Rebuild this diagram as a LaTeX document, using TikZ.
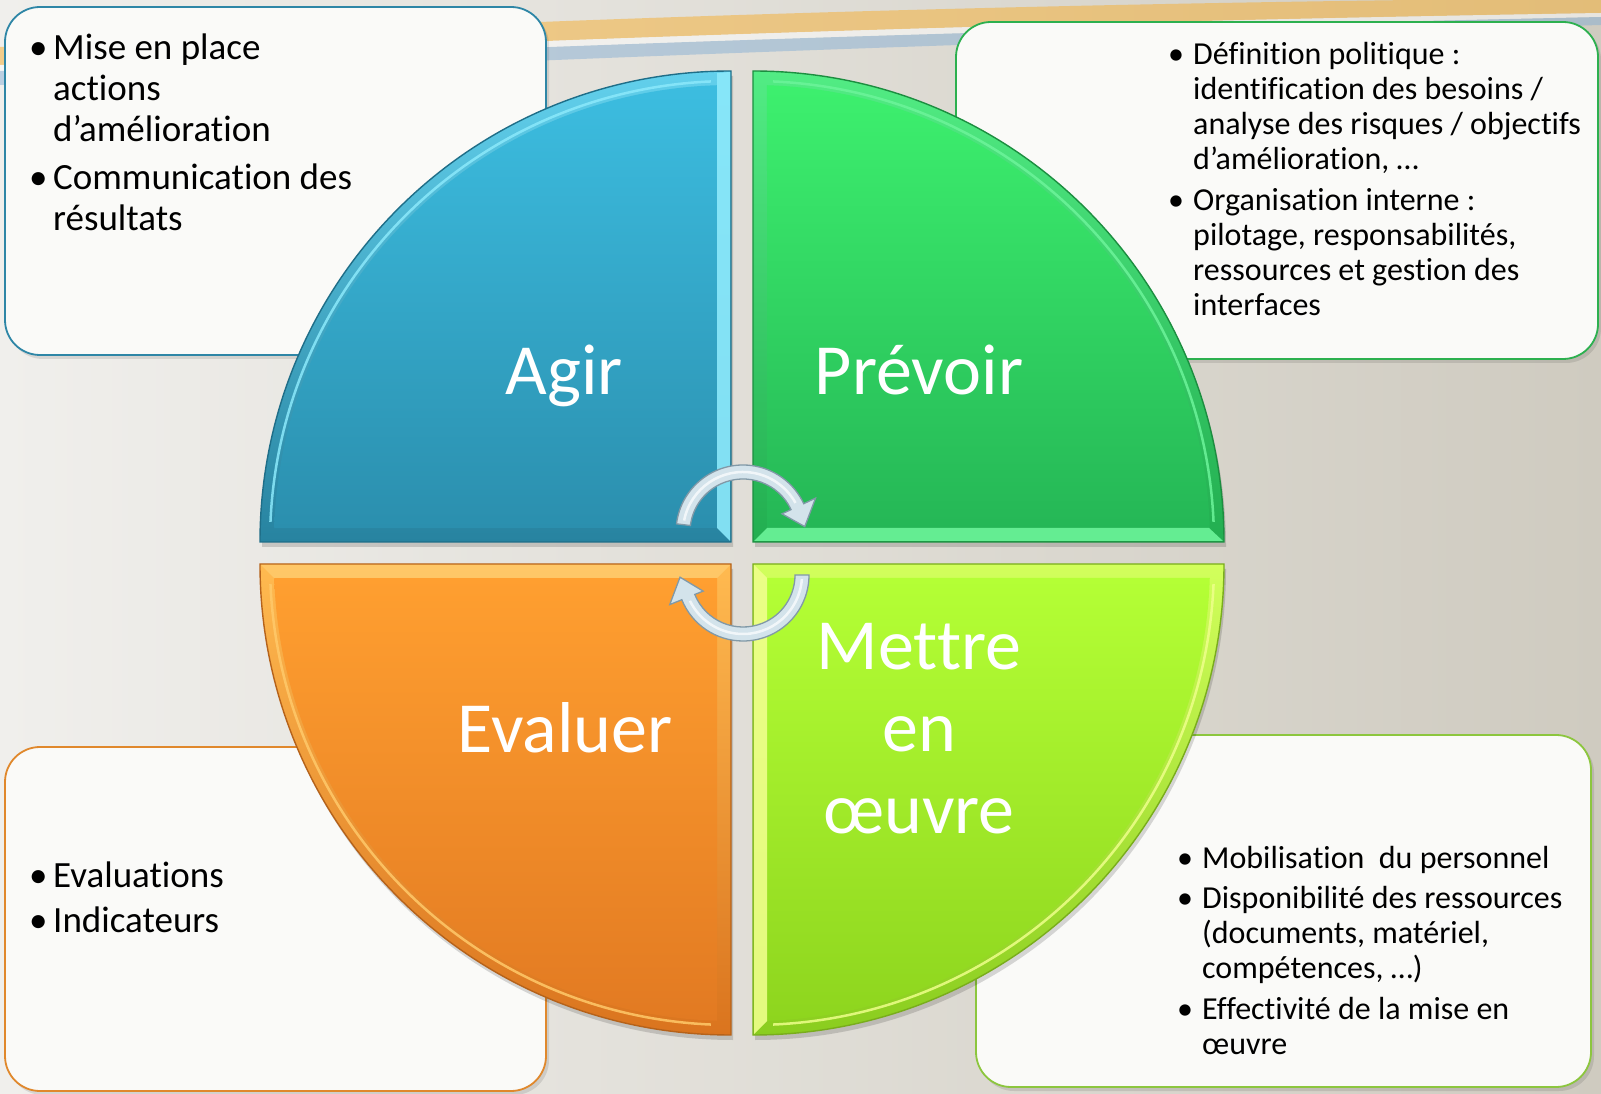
\documentclass[tikz,border=0pt]{standalone}
\usepackage{fontspec}
\setmainfont{Carlito}[Ligatures=NoCommon]
\definecolor{bgL}{HTML}{F0EFEC}
\definecolor{bgR}{HTML}{CFCBC0}
\definecolor{boxfill}{HTML}{FAFAF8}
\definecolor{bAgir}{HTML}{2E86A6}
\definecolor{bPrev}{HTML}{2CB04F}
\definecolor{bMet}{HTML}{8CC63E}
\definecolor{bEval}{HTML}{E0882C}
\definecolor{agT}{HTML}{3CBDE0}
\definecolor{agB}{HTML}{2B8FAE}
\definecolor{agBT}{HTML}{62D0EC}
\definecolor{agBB}{HTML}{2783A0}
\definecolor{agHi}{HTML}{8BE9FB}
\definecolor{agLine}{HTML}{1F6E88}
\definecolor{prT}{HTML}{3DF06E}
\definecolor{prB}{HTML}{25B756}
\definecolor{prBT}{HTML}{52EC84}
\definecolor{prBB}{HTML}{22AE50}
\definecolor{prHi}{HTML}{6CF49A}
\definecolor{prLine}{HTML}{1C8E40}
\definecolor{evT}{HTML}{FF9F30}
\definecolor{evB}{HTML}{E27A22}
\definecolor{evBT}{HTML}{FFBA50}
\definecolor{evBB}{HTML}{DA741E}
\definecolor{evHi}{HTML}{FFC96A}
\definecolor{evLine}{HTML}{B5621A}
\definecolor{meT}{HTML}{B4FF35}
\definecolor{meB}{HTML}{8ED51E}
\definecolor{meBT}{HTML}{D2FF5C}
\definecolor{meBB}{HTML}{8ACD1E}
\definecolor{meHi}{HTML}{EEFF8A}
\definecolor{meLine}{HTML}{79AD1C}
\definecolor{arFill}{HTML}{D3E3EB}
\definecolor{arLine}{HTML}{8199A7}
\definecolor{swOr}{HTML}{F4B23E}
\definecolor{swBl}{HTML}{7DAAD4}
\tikzset{
  box/.style={rounded corners=35, fill=boxfill, line width=1.8},
  boxshadow/.style={rounded corners=35, fill=black, opacity=.10},
  qlabel/.style={text=white, font=\fontsize{72}{82}\selectfont, inner sep=0, anchor=base},
  txtbig/.style={font=\fontsize{37}{41}\selectfont, inner sep=0, anchor=base west, text=black},
  txtsmall/.style={font=\fontsize{32}{35}\selectfont, inner sep=0, anchor=base west, text=black},
  cycarrow/.style={fill=arFill, draw=arLine, line width=1.3},
}
\newcommand\bitem[3]{\hbox{\makebox[#1pt][l]{\hspace*{#2pt}•}#3}}
\newcommand\bcont[2]{\hbox{\hspace*{#1pt}#2}}
% #1 x, #2 y, #3 start angle, #4 band top, #5 band bottom, #6 face top, #7 face bottom, #8 outline, #9 highlight
\newcommand\drawquad[9]{%
\begin{scope}[shift={(#1,#2)}]
 \fill[black, opacity=.15] (2,-5) -- ++(#3:471) arc[start angle=#3, delta angle=90, radius=471] -- cycle;
 \shade[top color=#4, bottom color=#5] (0,0) -- (#3:471) arc[start angle=#3, delta angle=90, radius=471] -- cycle;
 \draw[#8, line width=1.4] (0,0) -- (#3:471) arc[start angle=#3, delta angle=90, radius=471] -- cycle;
 \draw[#9, line width=2.5, opacity=.85] (#3+2.5:461) arc[start angle=#3+2.5, end angle=#3+87.5, radius=461];
 \shade[top color=#6, bottom color=#7] (#3+45:19.8) -- (#3+1.755:457) arc[start angle=#3+1.755, end angle=#3+88.245, radius=457] -- cycle;
\end{scope}}
\begin{document}
\begin{tikzpicture}[x=1pt,y=1pt]
\useasboundingbox (0,0) rectangle (1601,1093);
% background
\shade[left color=bgL, right color=bgR] (0,0) rectangle (1601,1093);
% swoosh
\begin{scope}[yshift=-5]
\fill[swOr, opacity=.55] (0,1051) .. controls (500,1078) and (1000,1095) .. (1601,1100)
  -- (1601,1085) .. controls (1000,1075) and (500,1058) .. (0,1033) -- cycle;
\fill[white, opacity=.5] (0,1033) .. controls (500,1058) and (1000,1075) .. (1601,1085)
  -- (1601,1081) .. controls (1000,1068) and (500,1052) .. (0,1027) -- cycle;
\fill[swBl, opacity=.45] (0,1027) .. controls (500,1052) and (1000,1068) .. (1601,1081)
  -- (1601,1073) .. controls (1000,1056) and (500,1038) .. (0,1013) -- cycle;
\end{scope}
% boxes
\fill[boxshadow] (8,734) rectangle (549,1083);
\draw[box, draw=bAgir] (5,738) rectangle (546,1086);
\fill[boxshadow] (959,730) rectangle (1601,1068);
\draw[box, draw=bPrev] (956,734) rectangle (1598,1071);
\fill[boxshadow] (979,2) rectangle (1594,355);
\draw[box, draw=bMet] (976,6) rectangle (1591,358);
\fill[boxshadow] (8,-2) rectangle (549,343);
\draw[box, draw=bEval] (5,2) rectangle (546,346);
% quadrants
\drawquad{731}{551}{90}{agBT}{agBB}{agT}{agB}{agLine}{agHi}
\fill[agHi, opacity=.9] (730,552) -- (717,565) -- (717,1020) -- (730,1021) -- cycle;
\drawquad{753}{551}{0}{prBT}{prBB}{prT}{prB}{prLine}{prHi}
\fill[prHi, opacity=.9] (754,552) -- (767,565) -- (1209,565) -- (1223,552) -- cycle;
\drawquad{731}{529}{180}{evBT}{evBB}{evT}{evB}{evLine}{evHi}
\fill[evHi, opacity=.9] (730,528) -- (717,515) -- (274,515) -- (261,528) -- cycle;
\drawquad{753}{529}{270}{meBT}{meBB}{meT}{meB}{meLine}{meHi}
\fill[meHi, opacity=.9] (754,528) -- (767,515) -- (767,72) -- (754,59) -- cycle;
% cycle arrows
\begin{scope}[shift={(743,561)}]
 \filldraw[cycarrow] (173:67) arc[start angle=173, end angle=25, radius=67] -- (25:80) -- (5:62) -- (25:43) -- (25:53) arc[start angle=25, end angle=173, radius=53] -- cycle;
 \draw[white, line width=2.5, opacity=.7] (169:60) arc[start angle=169, end angle=29, radius=60];
\end{scope}
\begin{scope}[shift={(743,518)}]
 \filldraw[cycarrow] (0:66) arc[start angle=0, end angle=-158, radius=66] -- (-158:79) -- (-178:63) -- (-158:43) -- (-158:52) arc[start angle=-158, end angle=0, radius=52] -- cycle;
 \draw[white, line width=2.5, opacity=.7] (-4:59) arc[start angle=-4, end angle=-154, radius=59];
\end{scope}
% quadrant labels
\node[qlabel] (agir) at (564,698) {Agir};
\node[qlabel] (prevoir) at (919,698) {Prévoir};
\node[qlabel] (evaluer) at (565,340) {Evaluer};
\node[qlabel] (mettre) at (919,423) {\begin{tabular}[t]{@{}c@{}}Mettre\\en\\œuvre\end{tabular}};
% box texts
\node[txtbig] (tagir) at (33,1033) {\vtop{\baselineskip=41pt\lineskiplimit=-500pt
  \bitem{20}{-4}{Mise en place}\bcont{20}{actions}\bcont{20}{d’amélioration}\vskip7pt
  \bitem{20}{-4}{Communication des}\bcont{20}{résultats}}};
\node[txtsmall] (tprev) at (1171,1028) {\vtop{\baselineskip=35pt\lineskiplimit=-500pt
  \bitem{22}{-3}{Définition politique :}\bcont{22}{identification des besoins /}\bcont{22}{analyse des risques / objectifs}\bcont{22}{d’amélioration, …}\vskip6pt
  \bitem{22}{-3}{Organisation interne :}\bcont{22}{pilotage, responsabilités,}\bcont{22}{ressources et gestion des}\bcont{22}{interfaces}}};
\node[txtsmall] (tmet) at (1180,225) {\vtop{\baselineskip=35pt\lineskiplimit=-500pt
  \bitem{22}{-3}{Mobilisation\ \ du personnel}\vskip6pt
  \bitem{22}{-3}{Disponibilité des ressources}\bcont{22}{(documents, matériel,}\bcont{22}{compétences, …)}\vskip6pt
  \bitem{22}{-3}{Effectivité de la mise en}\bcont{22}{œuvre}}};
\node[txtbig] (teval) at (33,206) {\vtop{\baselineskip=41pt\lineskiplimit=-500pt
  \bitem{20}{-4}{Evaluations}\vskip5pt
  \bitem{20}{-4}{Indicateurs}}};
\end{tikzpicture}
\end{document}
